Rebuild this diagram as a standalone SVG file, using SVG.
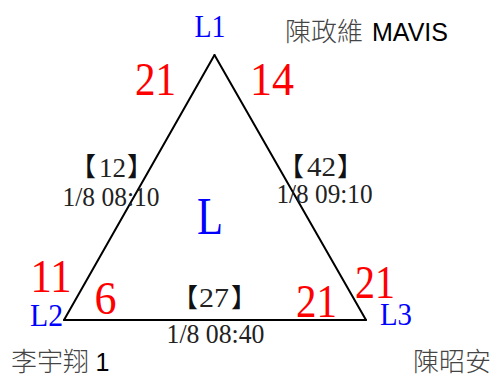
<svg xmlns="http://www.w3.org/2000/svg" width="492" height="374" viewBox="0 0 492 374">
<style>
.edge{stroke:#000;stroke-width:2;fill:none;stroke-linecap:round;stroke-linejoin:miter}
.blue{fill:#0000ff;font-family:"Liberation Serif","Times New Roman",serif;font-size:32px;text-anchor:middle}
.red{fill:#ff0000;font-family:"Liberation Serif","Times New Roman",serif;font-size:47px;text-anchor:middle}
.lbl{fill:#222;font-family:"Liberation Serif","Times New Roman",serif;font-size:28px;text-anchor:middle}
.brk{fill:#111;font-family:"Noto Sans CJK TC","Noto Sans CJK SC",sans-serif;font-size:26px}
.name{fill:#444;font-family:"Noto Sans CJK TC","Noto Sans CJK SC",sans-serif;font-size:26px;font-weight:300}
.lat{fill:#000;font-family:"Liberation Sans",Arial,sans-serif;font-size:25px;font-weight:400}
</style>
<rect width="492" height="374" fill="#fff"/>
<g id="connectors">
<line class="edge" x1="214.5" y1="55" x2="64" y2="320"/>
<line class="edge" x1="214.5" y1="55" x2="366" y2="320"/>
<line class="edge" x1="64" y1="320" x2="366" y2="320"/>
<text class="red" x="155.5" y="95" textLength="41" lengthAdjust="spacingAndGlyphs">21</text>
<text class="red" x="272" y="95" textLength="44" lengthAdjust="spacingAndGlyphs">14</text>
<text class="red" x="51" y="292" textLength="41" lengthAdjust="spacingAndGlyphs">11</text>
<text class="red" x="105.5" y="314" textLength="22" lengthAdjust="spacingAndGlyphs">6</text>
<text class="red" x="316.5" y="317" textLength="41" lengthAdjust="spacingAndGlyphs">21</text>
<text class="red" x="375" y="298" textLength="40" lengthAdjust="spacingAndGlyphs">21</text>
<g id="edge-L1-L2-label">
<text class="brk" x="70" y="176">【</text>
<text class="lbl" x="112.5" y="176.5" textLength="27" lengthAdjust="spacingAndGlyphs">12</text>
<text class="brk" x="127" y="176">】</text>
<text class="lbl" x="111" y="206" textLength="97" lengthAdjust="spacingAndGlyphs">1/8 08:10</text>
</g>
<g id="edge-L1-L3-label">
<text class="brk" x="278" y="176">【</text>
<text class="lbl" x="321.5" y="176" textLength="29" lengthAdjust="spacingAndGlyphs">42</text>
<text class="brk" x="337" y="176">】</text>
<text class="lbl" x="324.5" y="203" textLength="96" lengthAdjust="spacingAndGlyphs">1/8 09:10</text>
</g>
<g id="edge-L2-L3-label">
<text class="brk" x="172" y="307">【</text>
<text class="lbl" x="214" y="307" textLength="30" lengthAdjust="spacingAndGlyphs">27</text>
<text class="brk" x="231" y="307">】</text>
<text class="lbl" x="215.5" y="343" textLength="98" lengthAdjust="spacingAndGlyphs">1/8 08:40</text>
</g>
</g>
<g id="node-L1"><text class="blue" x="210" y="36.5" textLength="31" lengthAdjust="spacingAndGlyphs">L1</text></g>
<g id="node-L2"><text class="blue" x="46.5" y="326" textLength="33" lengthAdjust="spacingAndGlyphs">L2</text></g>
<g id="node-L3"><text class="blue" x="396" y="325" textLength="32" lengthAdjust="spacingAndGlyphs">L3</text></g>
<g id="node-L"><text class="blue" x="210" y="234" style="font-size:53px" textLength="26" lengthAdjust="spacingAndGlyphs">L</text></g>
<g id="name-top"><text class="name" x="285" y="41">陳政維<tspan class="lat" x="372">MAVIS</tspan></text></g>
<g id="name-left"><text class="name" x="11" y="371">李宇翔<tspan class="lat" x="95.5">1</tspan></text></g>
<g id="name-right"><text class="name" x="491" y="371" text-anchor="end">陳昭安</text></g>
</svg>
